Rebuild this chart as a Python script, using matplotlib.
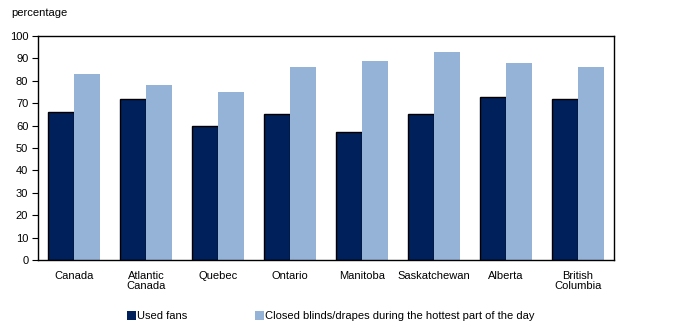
import matplotlib.pyplot as plt
import numpy as np
from matplotlib.patches import Patch

plt.rcParams['font.family'] = ['Liberation Sans', 'DejaVu Sans']

regions = ['Canada', 'Atlantic\nCanada', 'Quebec', 'Ontario', 'Manitoba',
           'Saskatchewan', 'Alberta', 'British\nColumbia']
used_fans = [66, 72, 60, 65, 57, 65, 73, 72]
closed_blinds = [83, 78, 75, 86, 89, 93, 88, 86]
series_names = ['Used fans',
                'Closed blinds/drapes during the hottest part of the day']

dark = '#00205B'
light = '#95B3D7'

fig = plt.figure(figsize=(6.75, 3.31), dpi=100)
ax = fig.add_axes([0.0563, 0.2145, 0.8533, 0.6765])

x = np.arange(len(regions))
w = 0.36
ax.bar(x - w / 2, used_fans, w, color=dark, edgecolor='black', linewidth=1)
ax.bar(x + w / 2, closed_blinds, w, color=light, linewidth=0)

ax.set_xlim(-0.5, len(regions) - 0.5)
ax.set_ylim(0, 100)
ax.set_yticks(range(0, 101, 10))
ax.set_xticks(x)
ax.set_xticklabels(regions, fontsize=8, linespacing=1.0)
ax.tick_params(axis='x', length=0, pad=8)
ax.tick_params(axis='y', labelsize=8, length=4, direction='out', pad=3)
for s in ax.spines.values():
    s.set_linewidth(1)

fig.text(0.017, 0.96, 'percentage', fontsize=8, va='center')

handles = [Patch(facecolor=dark, edgecolor='none'),
           Patch(facecolor=light, edgecolor='none')]
fig.legend(handles, series_names, loc='center', bbox_to_anchor=(0.49, 0.045),
           ncol=2, frameon=False, fontsize=8, handlelength=0.8,
           handleheight=0.8, handletextpad=0.1, columnspacing=6.1)

fig.savefig('out.png', dpi=100)
